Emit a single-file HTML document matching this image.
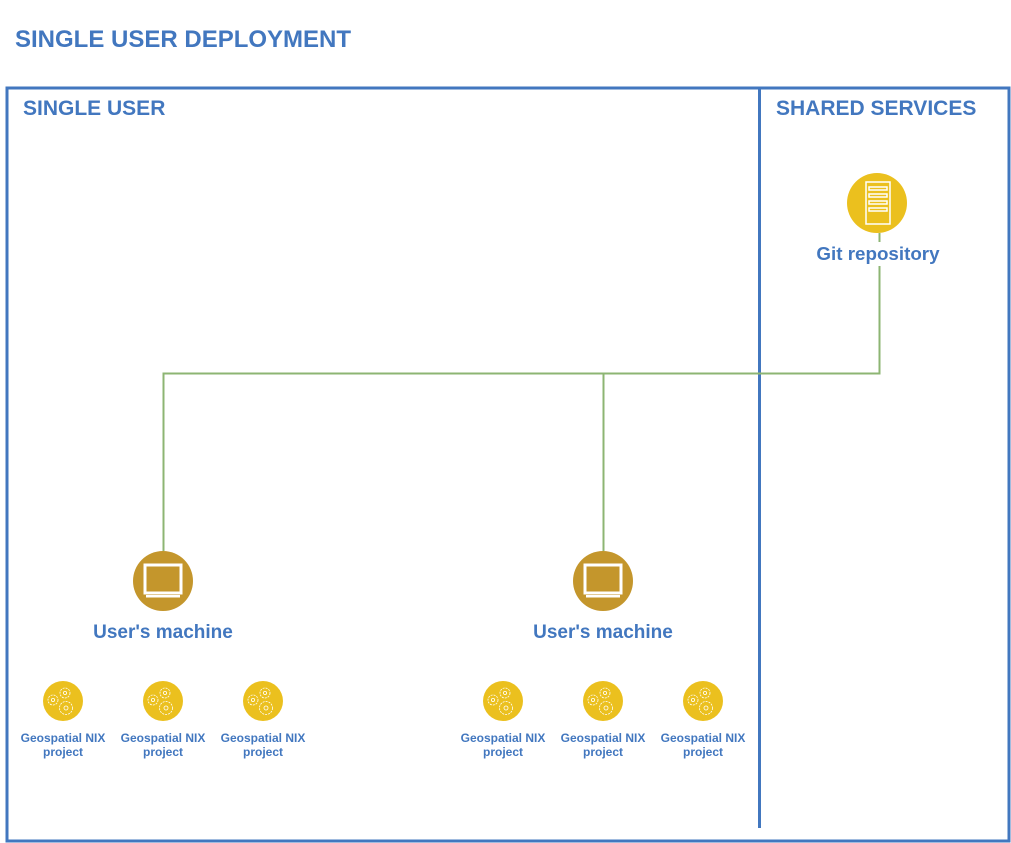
<!DOCTYPE html>
<html><head><meta charset="utf-8"><style>
html,body{margin:0;padding:0;background:#fff;}
svg{display:block;font-family:"Liberation Sans",Arial,sans-serif;font-weight:bold;}
</style></head><body>
<svg width="1011" height="843" viewBox="0 0 1011 843" xmlns="http://www.w3.org/2000/svg">
<defs>
<g id="gears" fill="none" stroke="#fff" stroke-width="0.8">
  <circle cx="-10" cy="-1" r="5" stroke-dasharray="2 1"/><circle cx="-10" cy="-1" r="1.6"/>
  <circle cx="2" cy="-8" r="5" stroke-dasharray="2 1"/><circle cx="2" cy="-8" r="1.6"/>
  <circle cx="3" cy="7" r="6.5" stroke-dasharray="2 1"/><circle cx="3" cy="7" r="2"/>
</g>
<g id="machine">
  <circle r="30" fill="#C4962C"/>
  <rect x="-18" y="-16" width="36" height="28" fill="none" stroke="#fff" stroke-width="3"/>
  <rect x="-17" y="14" width="34" height="2.5" fill="#fff"/>
</g>
<g id="proj">
  <circle r="20" fill="#EBC01E"/>
  <use href="#gears"/>
</g>
</defs>
<text x="15" y="47" font-size="24" fill="#4277BF">SINGLE USER DEPLOYMENT</text>
<rect x="7" y="88" width="1002" height="753" fill="none" stroke="#4277BF" stroke-width="3"/>
<line x1="759.5" y1="88" x2="759.5" y2="828" stroke="#4277BF" stroke-width="3"/>
<text x="23" y="115" font-size="21" fill="#4277BF">SINGLE USER</text>
<text x="776" y="115" font-size="21" fill="#4277BF">SHARED SERVICES</text>
<g stroke="#8DB573" stroke-width="2" fill="none">
  <line x1="879.5" y1="233" x2="879.5" y2="242"/>
  <polyline points="879.5,266 879.5,373.5 163.5,373.5 163.5,551"/>
  <line x1="603.5" y1="373.5" x2="603.5" y2="551"/>
</g>
<circle cx="877" cy="203" r="30" fill="#EBC01E"/>
<g fill="none" stroke="#fff" stroke-width="1.5">
  <rect x="866" y="182" width="24" height="42"/>
  <rect x="869" y="187" width="18" height="3"/>
  <rect x="869" y="194" width="18" height="3"/>
  <rect x="869" y="201" width="18" height="3"/>
  <rect x="869" y="208" width="18" height="3"/>
</g>
<text x="878" y="260" font-size="18.8" fill="#4277BF" text-anchor="middle">Git repository</text>
<use href="#machine" x="163" y="581"/>
<use href="#machine" x="603" y="581"/>
<text x="163" y="638" font-size="19" fill="#4277BF" text-anchor="middle">User's machine</text>
<text x="603" y="638" font-size="19" fill="#4277BF" text-anchor="middle">User's machine</text>
<g font-size="12" fill="#4277BF" text-anchor="middle">
  <use href="#proj" x="63" y="701"/><text x="63" y="742">Geospatial NIX</text><text x="63" y="756">project</text>
  <use href="#proj" x="163" y="701"/><text x="163" y="742">Geospatial NIX</text><text x="163" y="756">project</text>
  <use href="#proj" x="263" y="701"/><text x="263" y="742">Geospatial NIX</text><text x="263" y="756">project</text>
  <use href="#proj" x="503" y="701"/><text x="503" y="742">Geospatial NIX</text><text x="503" y="756">project</text>
  <use href="#proj" x="603" y="701"/><text x="603" y="742">Geospatial NIX</text><text x="603" y="756">project</text>
  <use href="#proj" x="703" y="701"/><text x="703" y="742">Geospatial NIX</text><text x="703" y="756">project</text>
</g>
</svg>
</body></html>
